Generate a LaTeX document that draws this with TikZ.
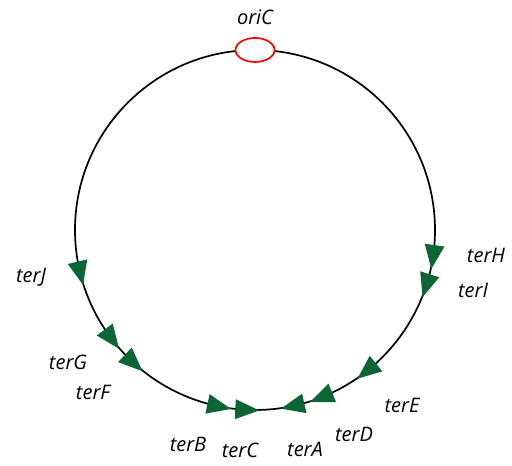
\documentclass[tikz,border=0pt]{standalone}
\usepackage{fontspec}
\setmainfont{Open Sans}
\usetikzlibrary{shapes.geometric,calc}
\begin{document}
\begin{tikzpicture}[x=1bp,y=1bp,
  lbl/.style={font=\fontsize{20bp}{22bp}\selectfont\itshape, anchor=base, inner sep=0pt},
  ring/.style={line width=1.7bp, black},
  terarrow/.style={fill=tergreen, draw=none}]
\definecolor{tergreen}{RGB}{12,102,52}
\useasboundingbox (0,0) rectangle (512,466);
\coordinate (c) at (255,236);
\draw[ring] (c) circle[radius=180];
\node[draw=red, fill=white, line width=1.7bp, ellipse, minimum width=39bp, minimum height=24bp, inner sep=0pt] (ori) at (255,416) {};
% triangles: angle, rotation
\foreach \n/\a/\r in {J/193.3/283.3, G/216.7/306.7, F/227/317, B/257.9/347.9, C/266.9/356.9,
                      A/282.7/192.7, D/292.2/202.2, E/309/219, I/342.6/252.6, H/352/262} {
  \fill[terarrow, shift={($(c)+(\a:180)$)}, rotate=\r] (14,0) -- (-10,10) -- (-10,-10) -- cycle;
}
\node[lbl] (loriC) at (255,441) {oriC};
\node[lbl] (lJ) at (31,183) {terJ};
\node[lbl] (lG) at (68,96) {terG};
\node[lbl] (lF) at (93,66) {terF};
\node[lbl] (lB) at (188,14) {terB};
\node[lbl] (lC) at (240,8) {terC};
\node[lbl] (lA) at (305,9) {terA};
\node[lbl] (lD) at (354,24) {terD};
\node[lbl] (lE) at (402,53) {terE};
\node[lbl] (lI) at (473,168) {terI};
\node[lbl] (lH) at (486,203) {terH};
\end{tikzpicture}
\end{document}
